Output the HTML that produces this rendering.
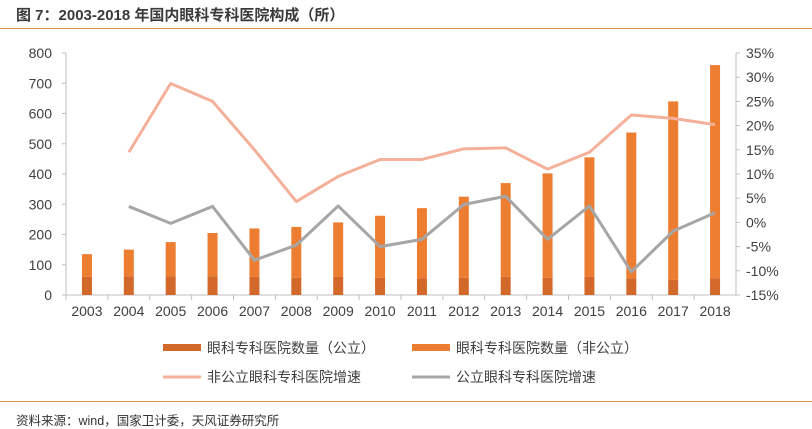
<!DOCTYPE html>
<html><head><meta charset="utf-8"><style>
body{margin:0;width:812px;height:429px;background:#fff;font-family:"Liberation Sans","Noto Sans CJK SC",sans-serif;overflow:hidden;position:relative}
.t{position:absolute;left:16px;top:4px;font-size:15px;font-weight:bold;color:#3a3a3a}
.ln{position:absolute;left:0;width:812px;height:1px;background:#d9944f}
.src{position:absolute;left:16px;top:410px;font-size:12.5px;color:#333}
</style></head><body>
<div class="t">图 7：2003-2018 年国内眼科专科医院构成（所）</div>
<div class="ln" style="top:28px"></div>
<svg id="c" width="812" height="429" style="position:absolute;left:0;top:0"></svg>
<div class="ln" style="top:401px"></div>
<div class="src">资料来源：wind，国家卫计委，天风证券研究所</div>
<script>
const years=['2003','2004','2005','2006','2007','2008','2009','2010','2011','2012','2013','2014','2015','2016','2017','2018'];
const publicCount=[60,62,62,62,60,57,60,57,55,57,60,57,60,55,50,55];
const totalCount=[135,150,175,205,220,225,240,262,287,325,370,402,455,537,640,760];
const nonPublicGrowth=[null,14.5,28.7,25,15,4.3,9.5,13,13,15.2,15.4,11,14.5,22.2,21.5,20.2];
const publicGrowth=[null,3.3,-0.2,3.3,-7.8,-4.7,3.4,-5,-3.5,3.7,5.4,-3.5,3.4,-10.2,-1.8,2.0];
const leftTicks=[0,100,200,300,400,500,600,700,800];
const rightTicks=[-15,-10,-5,0,5,10,15,20,25,30,35];
const NS='http://www.w3.org/2000/svg',svg=document.getElementById('c');
const X0=66,X1=736,Y0=295,Y1=53,step=(X1-X0)/years.length;
const xc=i=>X0+step*(i+0.5);
const yl=v=>Y0-(v/800)*(Y0-Y1);
const yr=v=>Y0-((v+15)/50)*(Y0-Y1);
function el(tag,a,txt){const e=document.createElementNS(NS,tag);for(const k in a)e.setAttribute(k,a[k]);if(txt!=null)e.textContent=txt;svg.appendChild(e);return e;}
// axes
let e;
e=el('line',{x1:X0,y1:Y1,x2:X0,y2:Y0,stroke:'#bfbfbf'});


e=el('line',{x1:X1,y1:Y1,x2:X1,y2:Y0,stroke:'#bfbfbf'});


e=el('line',{x1:X0,y1:Y0,x2:X1,y2:Y0,stroke:'#bfbfbf'});


leftTicks.forEach(v=>{
 el('line',{x1:X0-4,y1:yl(v),x2:X0,y2:yl(v),stroke:'#bfbfbf'});
 e=el('text',{x:52,y:yl(v)+5,'text-anchor':'end','font-size':14,fill:'#404040'},v);
 
 
});
rightTicks.forEach(v=>{
 el('line',{x1:X1,y1:yr(v),x2:X1+4,y2:yr(v),stroke:'#bfbfbf'});
 e=el('text',{x:746,y:yr(v)+5,'font-size':14,fill:'#404040'},v+'%');
 
 
});
years.forEach((y,i)=>{
 el('line',{x1:X0+step*i,y1:Y0,x2:X0+step*i,y2:Y0+5,stroke:'#bfbfbf'});
 e=el('text',{x:xc(i),y:316,'text-anchor':'middle','font-size':14,fill:'#404040'},y);
 
 
 const bw=10;
 e=el('rect',{x:xc(i)-bw/2,y:yl(totalCount[i]),width:bw,height:yl(publicCount[i])-yl(totalCount[i]),fill:'#ed7d31'});
 
 
 e=el('rect',{x:xc(i)-bw/2,y:yl(publicCount[i]),width:bw,height:Y0-yl(publicCount[i]),fill:'#d2692a'});
 
 
});
function line(arr,color,name){
 const pts=arr.map((v,i)=>v==null?null:xc(i)+','+yr(v)).filter(p=>p).join(' ');
 const p=el('polyline',{points:pts,fill:'none',stroke:color,'stroke-width':3,'stroke-linejoin':'round'});
 
 
}
line(nonPublicGrowth,'#f4b09a','line-nonpublic-growth');
line(publicGrowth,'#a6a6a6','line-public-growth');
// legend
function leg(x,y,kind,color,label,name){
 const g=document.createElementNS(NS,'g');svg.appendChild(g);
 
 
 let s;
 if(kind=='bar'){s=document.createElementNS(NS,'rect');s.setAttribute('x',x);s.setAttribute('y',y-5);s.setAttribute('width',38);s.setAttribute('height',7);s.setAttribute('fill',color);}
 else{s=document.createElementNS(NS,'line');s.setAttribute('x1',x);s.setAttribute('x2',x+38);s.setAttribute('y1',y-1);s.setAttribute('y2',y-1);s.setAttribute('stroke',color);s.setAttribute('stroke-width',3);}
 g.appendChild(s);
 const t=document.createElementNS(NS,'text');t.setAttribute('x',x+44);t.setAttribute('y',y+4);t.setAttribute('font-size',14);t.setAttribute('fill','#404040');t.textContent=label;g.appendChild(t);
}
leg(163,349,'bar','#d2692a','眼科专科医院数量（公立）','legend-public-count');
leg(412,349,'bar','#ed7d31','眼科专科医院数量（非公立）','legend-nonpublic-count');
leg(163,378,'line','#f4b09a','非公立眼科专科医院增速','legend-nonpublic-growth');
leg(412,378,'line','#a6a6a6','公立眼科专科医院增速','legend-public-growth');
</script>
</body></html>
